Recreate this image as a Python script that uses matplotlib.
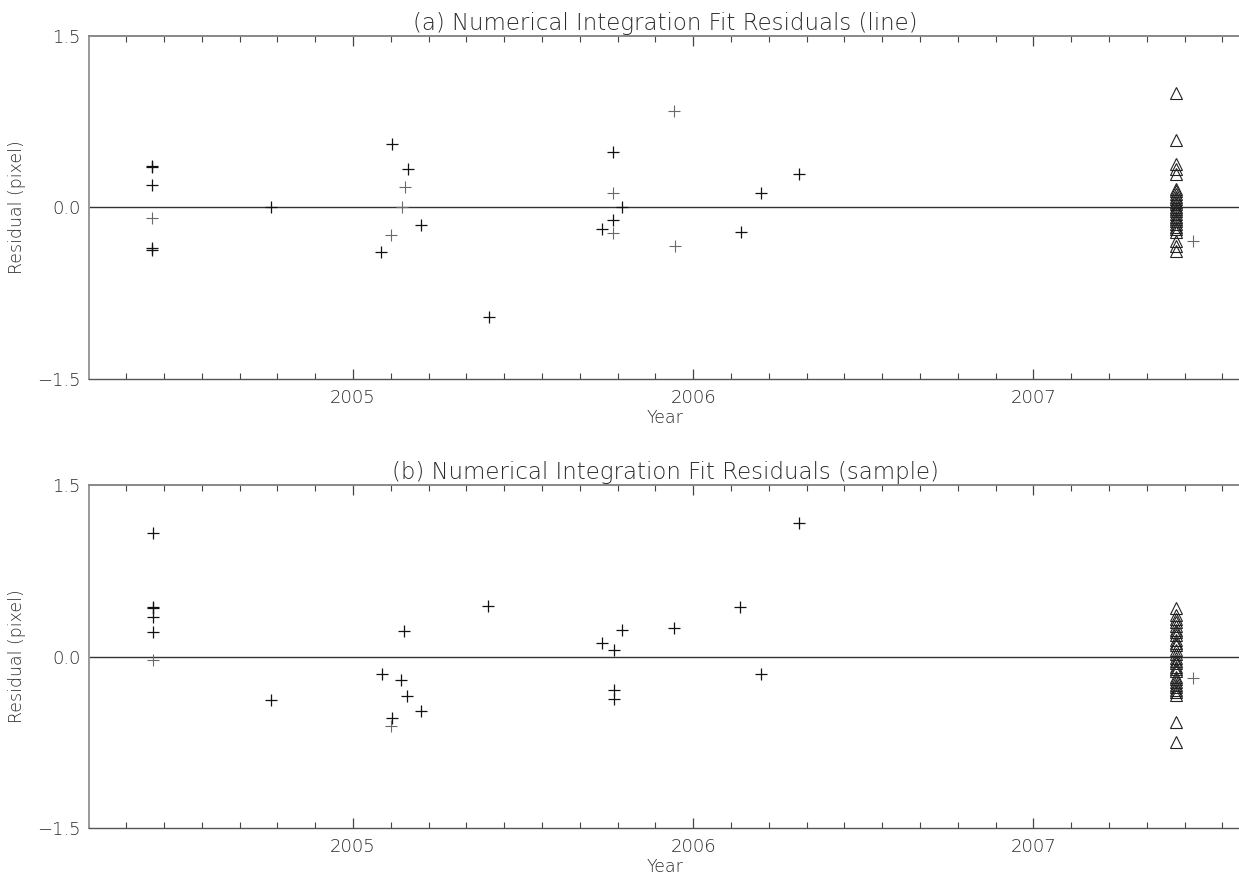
import matplotlib
matplotlib.use("Agg")
import matplotlib.pyplot as plt
from matplotlib.ticker import MultipleLocator, FixedLocator

# ---- data ----
# panel (a): line fit residuals
a_dark_year = [2004.41, 2004.41, 2004.41, 2004.41, 2004.41,
               2004.76,
               2005.083, 2005.115, 2005.161, 2005.20,
               2005.40,
               2005.731, 2005.764, 2005.764, 2005.79,
               2006.139, 2006.198, 2006.312]
a_dark_res = [0.36, 0.35, 0.20, -0.35, -0.37,
              0.0,
              -0.386, 0.552, 0.333, -0.152,
              -0.958,
              -0.184, 0.488, -0.111, 0.0,
              -0.213, 0.123, 0.292]
a_light_year = [2004.41, 2005.112, 2005.143, 2005.152, 2005.764, 2005.764,
                2005.942, 2005.945, 2007.468]
a_light_res = [-0.093, -0.24, 0.0, 0.175, 0.123, -0.219,
               0.847, -0.333, -0.29]
a_tri_res = [1.00, 0.59, 0.38, 0.335, 0.29, 0.16, 0.14, 0.117, 0.09, 0.073,
             0.05, 0.03, 0.0, -0.015, -0.03, -0.058, -0.08, -0.10, -0.12,
             -0.146, -0.17, -0.19, -0.21, -0.29, -0.335, -0.38]

# panel (b): sample fit residuals
b_dark_year = [2004.411, 2004.411, 2004.411, 2004.411, 2004.411,
               2004.76,
               2005.084, 2005.142, 2005.116, 2005.151, 2005.160, 2005.20,
               2005.398,
               2005.733, 2005.766, 2005.766, 2005.766, 2005.791,
               2005.944, 2006.138, 2006.198, 2006.312]
b_dark_res = [1.084, 0.43, 0.42, 0.345, 0.216,
              -0.38,
              -0.149, -0.207, -0.537, 0.219, -0.342, -0.479,
              0.438,
              0.12, 0.061, -0.292, -0.368, 0.234,
              0.245, 0.435, -0.149, 1.166]
b_light_year = [2004.411, 2005.111, 2007.47]
b_light_res = [-0.032, -0.61, -0.187]
b_tri_res = [0.426, 0.36, 0.33, 0.30, 0.27, 0.23, 0.21, 0.19, 0.14, 0.12,
             0.10, 0.055, 0.026, -0.017, -0.04, -0.06, -0.09, -0.11, -0.13,
             -0.18, -0.20, -0.22, -0.25, -0.27, -0.29, -0.31, -0.34,
             -0.57, -0.75]
tri_year = 2007.42

titles = ["(a) Numerical Integration Fit Residuals (line)",
          "(b) Numerical Integration Fit Residuals (sample)"]
year_ticks = [2005, 2006, 2007]
res_ticks = [-1.5, 0.0, 1.5]

TXT = "#2a2a2a"
W, H = 1239, 881

plt.rcParams["font.family"] = ["DejaVu Sans"]
plt.rcParams["font.weight"] = "light"
plt.rcParams["axes.titleweight"] = "light"
plt.rcParams["axes.labelweight"] = "light"


def draw_panel(ax, dark, light, tri, title):
    ax.axhline(0.0, color="#333333", lw=1.0, zorder=1)
    ax.plot(dark[0], dark[1], ls="none", marker="+", ms=8.5, mew=0.9,
            color="#111111", zorder=3)
    ax.plot(light[0], light[1], ls="none", marker="+", ms=8.5, mew=0.8,
            color="#6a6a6a", zorder=3)
    ax.plot([tri_year] * len(tri), tri, ls="none", marker="^", ms=8,
            mew=0.8, mfc="none", mec="#222222", zorder=4)

    ax.set_xlim(2004.224, 2007.61)
    ax.set_ylim(-1.5, 1.5)
    ax.xaxis.set_major_locator(FixedLocator(year_ticks))
    ax.xaxis.set_minor_locator(MultipleLocator(1 / 9))
    ax.set_yticks(res_ticks)
    ax.set_yticklabels([f"{v:.1f}".replace("-", "\u2212") for v in res_ticks])

    ax.tick_params(axis="x", which="both", direction="in", top=True,
                   colors="#444444", labelcolor=TXT, labelsize=13, pad=7)
    ax.tick_params(axis="x", which="major", length=7, width=0.9)
    ax.tick_params(axis="x", which="minor", length=4, width=0.8)
    ax.tick_params(axis="y", length=0, labelcolor=TXT, labelsize=13, pad=6)

    ax.spines["right"].set_visible(False)
    ax.spines["left"].set_color("#999999")
    ax.spines["left"].set_linewidth(1.4)
    ax.spines["top"].set_color("#888888")
    ax.spines["top"].set_linewidth(1.4)
    ax.spines["bottom"].set_color("#555555")
    ax.spines["bottom"].set_linewidth(1.0)

    ax.set_title(title, fontsize=16.5, color=TXT, pad=4)
    ax.set_xlabel("Year", fontsize=12.5, color=TXT, labelpad=2)
    ax.set_ylabel("Residual (pixel)", fontsize=12.5, color=TXT, labelpad=8)


fig = plt.figure(figsize=(W / 100, H / 100), dpi=100)
left = 89 / W
width = (1241 - 89) / W
height = 343 / H
ax_a = fig.add_axes([left, (H - 379) / H, width, height])
ax_b = fig.add_axes([left, (H - 828) / H, width, height])

draw_panel(ax_a, (a_dark_year, a_dark_res), (a_light_year, a_light_res),
           a_tri_res, titles[0])
draw_panel(ax_b, (b_dark_year, b_dark_res), (b_light_year, b_light_res),
           b_tri_res, titles[1])

fig.savefig("out.png", dpi=100)
